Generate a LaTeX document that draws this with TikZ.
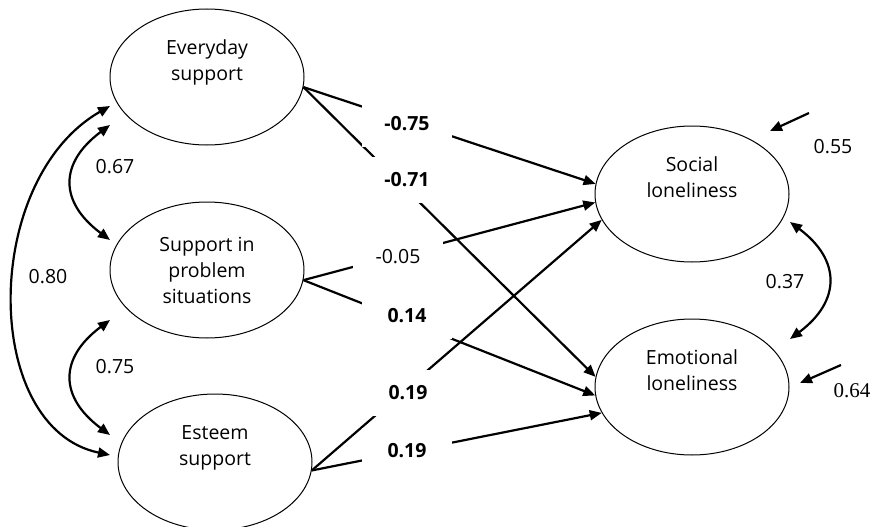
\documentclass[tikz,border=0pt]{standalone}
\usepackage{fontspec}
\setmainfont{Open Sans}
\newfontfamily\timesfont{Liberation Serif}
\usetikzlibrary{arrows.meta,shapes.geometric,calc}
\newcommand\semfont{\fontsize{19.5}{26}\selectfont}
\tikzset{
  latent/.style={ellipse,draw=black,line width=1pt,minimum width=194pt,minimum height=136pt,
    inner sep=0pt,align=center},
  eff/.style={-{Triangle[length=12pt,width=10pt]},line width=2.2pt},
  cov/.style={{Triangle[length=12pt,width=10pt]}-{Triangle[length=12pt,width=10pt]},line width=2.2pt},
  coef/.style={fill=white,minimum width=90pt,minimum height=46pt,inner sep=0pt},
  sig/.style={coef,font=\semfont\bfseries},
  num/.style={inner sep=0pt},
}
\begin{document}
\begin{tikzpicture}[x=1pt,y=1pt,font=\semfont]
  \useasboundingbox (0,0) rectangle (873,-527);
  % latent variables
  \node[latent] (every) at (207,-77) {Everyday\\support\\\strut};
  \node[latent] (supp) at (207,-270) {Support in\\problem\\situations};
  \node[latent] (esteem) at (215,-462) {Esteem\\support\\\strut};
  \node[latent] (social) at (692,-194) {Social\\loneliness\\\strut};
  \node[latent] (emot) at (692,-387) {Emotional\\loneliness\\\strut};
  % paths
  \draw[eff] (every.-6) -- (social.174);
  \draw[eff] (every.-6) -- (emot.174);
  \draw[eff] (supp.-6) -- (social.185);
  \draw[eff] (supp.-6) -- (emot.185);
  \draw[eff] (esteem.-5) -- (social.196);
  \draw[eff] (esteem.-5) -- (emot.196);
  \node[sig] (c1) at (407,-124) {-0.75};
  \node[sig] (c2) at (407,-180) {-0.71};
  \node[coef] (c3) at (398,-257) {-0.05};
  \node[sig] (c4) at (407,-316) {0.14};
  \node[sig] (c5) at (408,-393) {0.19};
  \node[sig] (c6) at (407,-451) {0.19};
  % covariances
  \coordinate (ev1) at (110,-106);
  \coordinate (ev2) at (110,-125);
  \coordinate (su1) at (110,-240);
  \coordinate (su2) at (110,-320);
  \coordinate (es1) at (110,-435);
  \coordinate (es2) at (110,-455);
  \coordinate (so1) at (790,-222);
  \coordinate (em1) at (790,-339);
  \draw[cov] (ev2) .. controls (59,-163) and (59,-202) .. (su1);
  \draw[cov] (su2) .. controls (59,-358) and (59,-397) .. (es1);
  \draw[cov] (ev1) .. controls (-19,-180) and (-19,-428) .. (es2);
  \draw[cov] (so1) .. controls (841,-260) and (841,-301) .. (em1);
  \node[num] (k1) at (115,-167) {0.67};
  \node[num] (k2) at (115,-367) {0.75};
  \node[num] (k3) at (48,-277) {0.80};
  \node[num] (k4) at (785,-282) {0.37};
  % residuals
  \coordinate (r1a) at (809,-113);
  \coordinate (r1b) at (770,-131);
  \coordinate (r2a) at (841,-365);
  \coordinate (r2b) at (800,-383);
  \draw[eff] (r1a) -- (r1b);
  \draw[eff] (r2a) -- (r2b);
  \node[num] (d1) at (833,-147) {0.55};
  \node[num,font=\timesfont\fontsize{21}{25}\selectfont] (d2) at (852,-391) {0.64};
\end{tikzpicture}
\end{document}
